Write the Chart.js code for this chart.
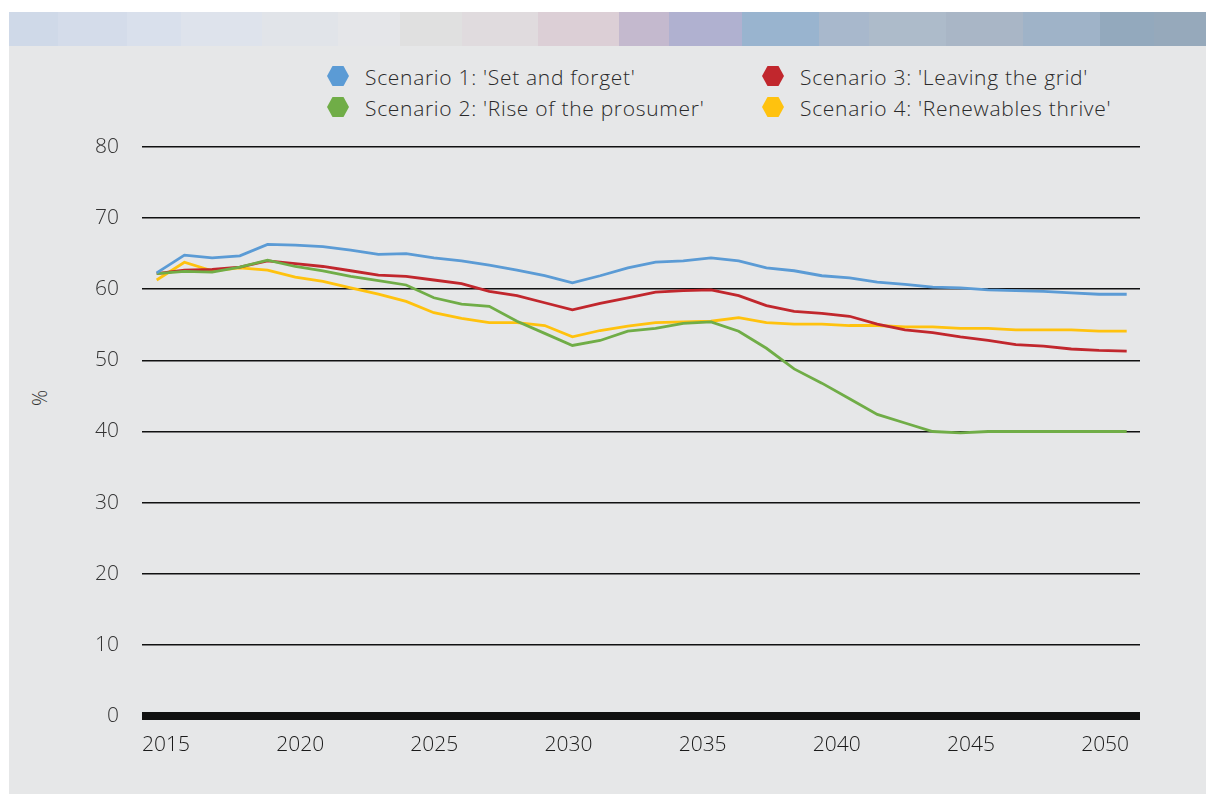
<!DOCTYPE html>
<html>
<head>
<meta charset="utf-8">
<script src="https://cdn.jsdelivr.net/npm/chart.js@4/dist/chart.umd.min.js"></script>
<style>
  body { margin: 0; width: 1206px; height: 794px; background: #fff; position: relative; overflow: hidden; font-family: 'Open Sans', sans-serif; }
  #banner {
    position: absolute; left: 9px; top: 12px; width: 1197px; height: 34px;
    background: linear-gradient(90deg,
      #cfd9e8 0px, #cfd9e8 49px, #d4dcea 49px, #d4dcea 118px, #d9e0ec 118px, #d9e0ec 172px,
      #dee3ec 172px, #dee3ec 253px, #e1e4e9 253px, #e1e4e9 329px, #e5e6e9 329px, #e5e6e9 391px,
      #e0e0e0 391px, #e0e0e0 453px, #e0dbde 453px, #e0dbde 529px, #dccfd6 529px, #dccfd6 610px,
      #c4b9ce 610px, #c4b9ce 660px, #b0b1d0 660px, #b0b1d0 733px, #99b4cf 733px, #99b4cf 810px,
      #a8b8cc 810px, #a8b8cc 860px, #adbbca 860px, #adbbca 937px, #a9b6c6 937px, #a9b6c6 1014px,
      #9fb3c8 1014px, #9fb3c8 1091px, #93a9bd 1091px, #93a9bd 1145px, #96a9bb 1145px);
  }
  #panel { position: absolute; left: 9px; top: 46px; right: 0; bottom: 0; background: #e6e7e8; }
  #chart { position: absolute; left: 0; top: 0; }
  .legend-item { position: absolute; font-size: 21px; font-weight: 300; color: #2a2a2a; line-height: 24px;
                 letter-spacing: 0.7px; white-space: nowrap; }
  .hex { position: absolute; width: 22px; height: 20px; clip-path: polygon(25% 0, 75% 0, 100% 50%, 75% 100%, 25% 100%, 0 50%); }
  #unit { position: absolute; left: 30px; top: 388px; width: 20px; height: 20px; font-size: 20px; font-weight: 300; color: #333;
          transform: rotate(-90deg); text-align: center; line-height: 20px; }
</style>
</head>
<body>
<div id="banner"></div>
<div id="panel"></div>
<div id="legend"></div>
<div id="unit">%</div>
<canvas id="chart" width="1206" height="794"></canvas>
<script>
// --- data ---
const years = [2015, 2016, 2017, 2018, 2019, 2020, 2021, 2022, 2023, 2024,
               2025, 2026, 2027, 2028, 2029, 2030, 2031, 2032, 2033, 2034,
               2035, 2036, 2037, 2038, 2039, 2040, 2041, 2042, 2043, 2044,
               2045, 2046, 2047, 2048, 2049, 2050];

const setAndForget = [62.3, 64.8, 64.4, 64.7, 66.3, 66.2, 66.0, 65.5, 64.9, 65.0,
                      64.4, 64.0, 63.4, 62.7, 61.9, 60.9, 61.9, 63.0, 63.8, 64.0,
                      64.4, 64.0, 63.0, 62.6, 61.9, 61.6, 61.0, 60.7, 60.3, 60.2,
                      59.9, 59.8, 59.7, 59.5, 59.3, 59.3];

const riseOfProsumer = [62.2, 62.5, 62.4, 63.1, 64.1, 63.2, 62.6, 61.8, 61.2, 60.6,
                        58.8, 57.9, 57.6, 55.5, 53.8, 52.1, 52.8, 54.1, 54.5, 55.2,
                        55.4, 54.1, 51.7, 48.8, 46.8, 44.6, 42.4, 41.2, 40.0, 39.8,
                        40.0, 40.0, 40.0, 40.0, 40.0, 40.0];

const leavingGrid = [62.2, 62.7, 62.8, 63.1, 64.0, 63.6, 63.2, 62.6, 62.0, 61.8,
                     61.3, 60.8, 59.7, 59.1, 58.1, 57.1, 58.0, 58.8, 59.6, 59.8,
                     59.9, 59.1, 57.7, 56.9, 56.6, 56.2, 55.1, 54.3, 53.9, 53.3,
                     52.8, 52.2, 52.0, 51.6, 51.4, 51.3];

const renewablesThrive = [61.3, 63.8, 62.6, 63.0, 62.7, 61.7, 61.1, 60.2, 59.3, 58.3,
                          56.7, 55.9, 55.3, 55.3, 54.9, 53.3, 54.2, 54.8, 55.3, 55.4,
                          55.5, 56.0, 55.3, 55.1, 55.1, 54.9, 54.9, 54.7, 54.7, 54.5,
                          54.5, 54.3, 54.3, 54.3, 54.1, 54.1];

const yearTicks = [2015, 2020, 2025, 2030, 2035, 2040, 2045, 2050];
const seriesNames = ["Scenario 1: 'Set and forget'", "Scenario 2: 'Rise of the prosumer'",
                     "Scenario 3: 'Leaving the grid'", "Scenario 4: 'Renewables thrive'"];
const seriesColors = ['#5b9bd5', '#70ad47', '#c1272d', '#ffc20e'];
const seriesValues = [setAndForget, riseOfProsumer, leavingGrid, renewablesThrive];

const FONT = "'Open Sans', sans-serif";

// --- legend (two columns, hexagon markers) ---
const legendPos = [
  { x: 327, y: 64 }, { x: 327, y: 95 },   // column 1: scenario 1, 2
  { x: 762, y: 64 }, { x: 762, y: 95 }    // column 2: scenario 3, 4
];
const legend = document.getElementById('legend');
seriesNames.forEach((name, i) => {
  const hex = document.createElement('div');
  hex.className = 'hex';
  hex.style.left = legendPos[i].x + 'px';
  hex.style.top = (legendPos[i].y + 2) + 'px';
  hex.style.background = seriesColors[i];
  legend.appendChild(hex);

  const label = document.createElement('div');
  label.className = 'legend-item';
  label.style.left = (legendPos[i].x + 38) + 'px';
  label.style.top = (legendPos[i].y + 1) + 'px';
  label.textContent = name;
  legend.appendChild(label);
});

// --- chart ---
const datasets = seriesValues.map((vals, i) => ({
  label: seriesNames[i],
  data: years.map((yr, j) => ({ x: yr, y: vals[j] })),
  borderColor: seriesColors[i],
  borderWidth: 2.8,
  pointRadius: 0,
  tension: 0,
  fill: false,
  xAxisID: 'x',
  yAxisID: 'y'
}));

new Chart(document.getElementById('chart'), {
  type: 'line',
  data: { datasets },
  options: {
    responsive: false,
    animation: false,
    layout: { padding: { left: 0, right: 66, top: 147, bottom: 38 } },
    plugins: { legend: { display: false }, tooltip: { enabled: false } },
    scales: {
      x: {
        type: 'linear', min: 2014.47, max: 2050.48,
        display: false
      },
      // label axis: the reference's year labels sit on a slightly tighter spacing than the data
      xLabels: {
        type: 'linear', position: 'bottom', min: 2014.106, max: 2051.30,
        grid: { display: false, drawTicks: false },
        border: { display: false },
        afterBuildTicks: s => { s.ticks = yearTicks.map(v => ({ value: v })); },
        afterFit: s => { s.height = 40; },
        ticks: {
          autoSkip: false, maxRotation: 0, padding: 16,
          color: '#1a1a1a',
          font: { family: FONT, size: 21, weight: '300' },
          callback: v => String(v)
        }
      },
      y: {
        min: 0, max: 80,
        afterFit: s => { s.width = 142; },
        border: { display: false },
        grid: {
          color: '#111',
          lineWidth: ctx => (ctx.tick && ctx.tick.value === 0 ? 8 : 1.6),
          drawTicks: false
        },
        ticks: {
          stepSize: 10, padding: 23,
          color: '#333',
          font: { family: FONT, size: 21, weight: '300' }
        }
      }
    }
  }
});
</script>
</body>
</html>
